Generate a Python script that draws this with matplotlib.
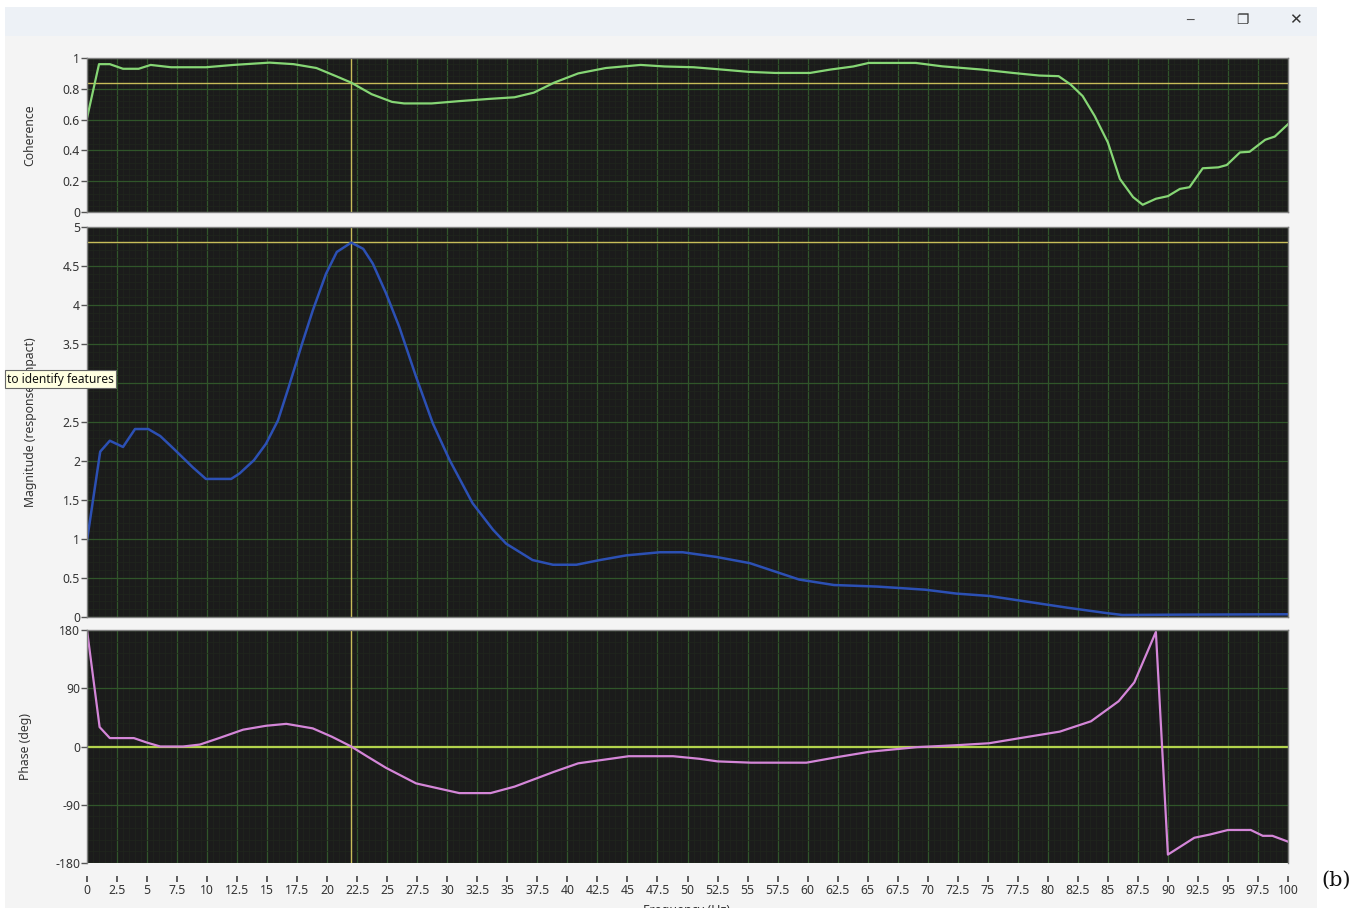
import matplotlib
matplotlib.use('Agg')
import matplotlib.pyplot as plt
from matplotlib.patches import Rectangle
from matplotlib.ticker import MultipleLocator, FuncFormatter

# coherence
coh_f = [0, 1.0, 1.9, 3.0, 4.3, 5.3, 7.0, 9.9, 12.2, 15.2, 17.2, 19.1, 20.8, 22, 23.7,
         25.4, 26.4, 28.7, 31, 33.6, 35.6, 37.2, 38.9, 40.9, 43.2, 46.1, 48.1, 50.5,
         52.1, 55.1, 57.3, 60.2, 61.9, 63.8, 65.1, 69, 71.2, 74.5, 77.1, 79.3, 80.9,
         81.9, 82.9, 83.9, 85, 86, 87.1, 87.9, 89, 90, 91, 91.8, 92.9, 94.2, 94.9, 96,
         96.8, 98.1, 98.9, 100]
coh_v = [0.61, 0.96, 0.96, 0.93, 0.93, 0.955, 0.94, 0.94, 0.955, 0.97, 0.96, 0.935, 0.88,
         0.84, 0.765, 0.715, 0.705, 0.705, 0.72, 0.735, 0.745, 0.775, 0.84, 0.9, 0.935,
         0.955, 0.945, 0.94, 0.93, 0.91, 0.903, 0.903, 0.925, 0.945, 0.968, 0.968, 0.946,
         0.925, 0.903, 0.886, 0.882, 0.828, 0.753, 0.624, 0.452, 0.215, 0.097, 0.047,
         0.086, 0.103, 0.15, 0.161, 0.284, 0.29, 0.305, 0.387, 0.391, 0.469, 0.49, 0.57]

# magnitude (response/impact)
mag_f = [0, 1.1, 1.9, 3.0, 4.0, 5.1, 6.1, 7.2, 8.8, 9.9, 12.0, 12.7, 13.9, 14.9, 15.9,
         16.8, 17.9, 18.8, 19.9, 20.8, 22, 23, 23.8, 24.9, 26, 27.4, 28.8, 30.2, 32.1,
         33.8, 34.9, 37.1, 38.8, 40.75, 42.7, 44.9, 47.7, 49.6, 52.4, 55.2, 59.3, 62.2,
         65.8, 69.8, 72.4, 75.1, 79, 81.6, 84.9, 86.2, 90.8, 100]
mag_v = [0.98, 2.12, 2.26, 2.18, 2.41, 2.41, 2.32, 2.16, 1.92, 1.77, 1.77, 1.84, 2.01,
         2.22, 2.52, 2.95, 3.5, 3.93, 4.4, 4.68, 4.8, 4.72, 4.53, 4.15, 3.72, 3.08, 2.48,
         2.01, 1.46, 1.12, 0.94, 0.73, 0.67, 0.67, 0.73, 0.79, 0.83, 0.83, 0.77, 0.69,
         0.48, 0.41, 0.39, 0.35, 0.30, 0.27, 0.18, 0.12, 0.05, 0.026, 0.03, 0.035]

# phase (deg)
ph_f = [0, 1.05, 1.9, 3.9, 5.0, 6.1, 8.0, 9.4, 11, 13, 14.9, 16.6, 18.8, 20.4, 22, 23.3,
        24.9, 27.4, 31, 33.6, 35.6, 38.9, 40.9, 43.2, 45.1, 48.8, 51, 52.5, 55.3, 59.9,
        62.6, 65.2, 69.1, 72.4, 75.1, 77.7, 81, 83.6, 85.9, 87.2, 89, 90, 92.2, 93.5,
        95, 96.9, 97.9, 98.7, 100]
ph_v = [180, 30, 13, 13, 6, 0, 0, 3, 13, 26, 32, 35, 28, 15, 0, -15, -33, -57, -72, -72,
        -62, -39, -26, -20, -15, -15, -19, -23, -25, -25, -16, -8, -1, 2, 5, 13, 23, 39,
        70, 99, 177, -167, -141, -136, -129, -129, -138, -138, -147]

cursor_f = 22
cursor_coh = 0.84
cursor_mag = 4.81
cursor_ph = 0

W, H = 1359, 916
fig = plt.figure(figsize=(W / 100, H / 100), dpi=100)
fig.patch.set_facecolor('white')


def box(x0, y0, x1, y1):
    # pixel box (top-left origin) -> figure fraction rect
    return [x0 / W, 1 - y1 / H, (x1 - x0) / W, (y1 - y0) / H]


def rect(x0, y0, x1, y1, color, z=-1):
    r = Rectangle(box(x0, y0, x1, y1)[:2], (x1 - x0) / W, (y1 - y0) / H,
                  transform=fig.transFigure, fc=color, ec='none', zorder=z)
    fig.add_artist(r)


# window frame
rect(5, 36, 1317, 908, '#f4f4f4')
rect(5, 7, 1317, 36, '#edf1f6')

FONT = 'Noto Sans'
fmt = FuncFormatter(lambda v, p: '%g' % (round(v, 3) + 0.0))


def style(ax, ylim, ymaj, ymin):
    ax.set_facecolor('#1b1b1b')
    ax.set_xlim(0, 100)
    ax.set_ylim(*ylim)
    ax.xaxis.set_major_locator(MultipleLocator(2.5))
    ax.xaxis.set_minor_locator(MultipleLocator(0.5))
    ax.yaxis.set_major_locator(MultipleLocator(ymaj))
    ax.yaxis.set_minor_locator(MultipleLocator(ymin))
    ax.yaxis.set_major_formatter(fmt)
    ax.xaxis.set_major_formatter(fmt)
    ax.grid(which='major', color='#30552a', lw=0.9)
    ax.grid(which='minor', color='#20261d', lw=0.5)
    ax.set_axisbelow(True)
    for s in ax.spines.values():
        s.set_color('#808080')
        s.set_linewidth(1)
    ax.tick_params(axis='y', which='major', direction='out', length=4, width=1,
                   color='#555555', labelsize=8.8, labelcolor='#333333', pad=1)
    ax.tick_params(axis='y', which='minor', length=0)
    ax.tick_params(axis='x', which='both', length=0, labelbottom=False)
    for t in ax.get_yticklabels():
        t.set_family(FONT)


ax_c = fig.add_axes(box(87, 58, 1288, 212))
ax_m = fig.add_axes(box(87, 227, 1288, 617))
ax_p = fig.add_axes(box(87, 630, 1288, 863))

style(ax_c, (0, 1), 0.2, 0.04)
style(ax_m, (0, 5), 0.5, 0.1)
style(ax_p, (-180, 180), 90, 18)

cur = '#c8bc5a'
ax_c.axvline(cursor_f, color=cur, lw=1)
ax_c.axhline(cursor_coh, color=cur, lw=1)
ax_c.plot(coh_f, coh_v, color='#86d675', lw=1.6)

ax_m.axvline(cursor_f, color=cur, lw=1)
ax_m.axhline(cursor_mag, color=cur, lw=1)
ax_m.plot(mag_f, mag_v, color='#2c50b4', lw=1.8)

ax_p.axvline(cursor_f, color=cur, lw=1)
ax_p.axhline(cursor_ph, color='#b2d24c', lw=1.6)
ax_p.plot(ph_f, ph_v, color='#d486d8', lw=1.6)

# detached x ticks under the phase graph
ax_p.spines['bottom'].set_position(('outward', 9))
ax_p.spines['bottom'].set_visible(False)
ax_p.tick_params(axis='x', which='major', direction='out', length=4, width=1.2,
                 color='#444444', labelbottom=True, labelsize=8.8,
                 labelcolor='#333333', pad=2)
for t in ax_p.get_xticklabels():
    t.set_family(FONT)

# axis titles
fig.text(30 / W, 1 - 135 / H, 'Coherence', rotation=90, ha='center', va='center',
         fontsize=8.8, color='#333333', family=FONT)
fig.text(31 / W, 1 - 422 / H, 'Magnitude (response/impact)', rotation=90, ha='center',
         va='center', fontsize=8.8, color='#333333', family=FONT)
fig.text(25 / W, 1 - 746 / H, 'Phase (deg)', rotation=90, ha='center', va='center',
         fontsize=8.8, color='#333333', family=FONT)
fig.text(687 / W, 1 - 904 / H, 'Frequency (Hz)', ha='center', va='top',
         fontsize=9, color='#333333', family=FONT)
rect(0, 908, W, H, 'white', z=30)

# tooltip (covers part of the magnitude label, as in the screenshot)
fig.text(7 / W, 1 - 379 / H, 'to identify features', ha='left', va='center',
         fontsize=8.6, color='#111111', family=FONT, zorder=40,
         bbox=dict(boxstyle='square,pad=0.18', fc='#ffffe1', ec='#666666', lw=0.8))

# window buttons
fig.text(1190 / W, 1 - 20 / H, '\u2500', ha='center', va='center', fontsize=9,
         color='#555555', family='DejaVu Sans')
fig.text(1242 / W, 1 - 20 / H, '\u2750', ha='center', va='center', fontsize=10,
         color='#333333', family='DejaVu Sans')
fig.text(1295 / W, 1 - 20 / H, '\u2715', ha='center', va='center', fontsize=11,
         color='#333333', family='DejaVu Sans')

fig.text(1336 / W, 1 - 880 / H, '(b)', ha='center', va='center', fontsize=15,
         color='#111111', family='DejaVu Serif')

fig.savefig('out.png', dpi=100, facecolor=fig.get_facecolor())
